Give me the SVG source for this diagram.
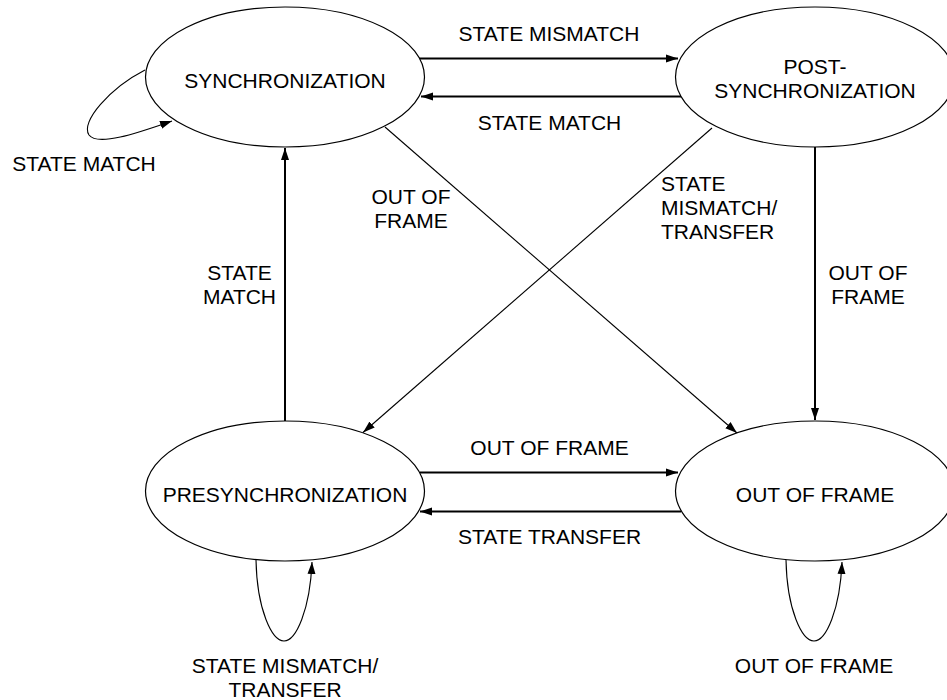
<svg xmlns="http://www.w3.org/2000/svg" width="947" height="700" viewBox="0 0 947 700">
  <style>
    .node { fill: #ffffff; stroke: #000000; stroke-width: 1.2; }
    .lbl { font-family: "Liberation Sans", Arial, sans-serif; font-size: 21px; fill: #000000; }
    .mid { text-anchor: middle; }
    .thick { fill: none; stroke: #000000; stroke-width: 2; }
    .thin { fill: none; stroke: #000000; stroke-width: 1.1; }
  </style>
  <defs>
    <marker id="arrow" markerUnits="userSpaceOnUse" markerWidth="13" markerHeight="9" refX="12" refY="4.5" orient="auto">
      <path d="M0,0.5 L12,4.5 L0,8.5 z" fill="#000000"/>
    </marker>
  </defs>
  <rect width="947" height="700" fill="#ffffff"/>

  <!-- transitions -->
  <g id="connectors">
    <line class="thick" x1="419" y1="58.5" x2="678" y2="58.5" marker-end="url(#arrow)"/>
    <line class="thick" x1="681" y1="96.5" x2="421" y2="96.5" marker-end="url(#arrow)"/>
    <line class="thick" x1="420" y1="472.5" x2="678" y2="472.5" marker-end="url(#arrow)"/>
    <line class="thick" x1="681" y1="511.5" x2="420" y2="511.5" marker-end="url(#arrow)"/>
    <line class="thick" x1="285" y1="421" x2="285" y2="148" marker-end="url(#arrow)"/>
    <line class="thick" x1="815" y1="147" x2="815" y2="420" marker-end="url(#arrow)"/>
    <line class="thin" x1="385" y1="127" x2="737" y2="433" marker-end="url(#arrow)"/>
    <line class="thin" x1="712" y1="128" x2="363" y2="432.5" marker-end="url(#arrow)"/>
    <path class="thin" d="M145,70 C110,88 80,122 89,135 C98,147 140,132 172,121" marker-end="url(#arrow)"/>
    <path class="thin" d="M256,560 C257,610 272,641 284,641 C296,641 310,610 312,562" marker-end="url(#arrow)"/>
    <path class="thin" d="M786,560 C787,610 802,641 814,641 C826,641 840,610 842,562" marker-end="url(#arrow)"/>
  </g>

  <!-- states -->
  <g id="synchronization">
    <ellipse class="node" cx="285" cy="77" rx="139.5" ry="70"/>
    <text class="lbl mid" x="285" y="88">SYNCHRONIZATION</text>
  </g>
  <g id="post-synchronization">
    <ellipse class="node" cx="815" cy="77" rx="139.5" ry="70"/>
    <text class="lbl mid" x="815" y="74">POST-</text>
    <text class="lbl mid" x="815" y="98">SYNCHRONIZATION</text>
  </g>
  <g id="presynchronization">
    <ellipse class="node" cx="285" cy="491" rx="139.5" ry="70"/>
    <text class="lbl mid" x="285" y="502">PRESYNCHRONIZATION</text>
  </g>
  <g id="out-of-frame">
    <ellipse class="node" cx="815" cy="491" rx="139.5" ry="70"/>
    <text class="lbl mid" x="815" y="502">OUT OF FRAME</text>
  </g>

  <!-- transition labels -->
  <g id="labels">
    <text class="lbl mid" x="549" y="41">STATE MISMATCH</text>
    <text class="lbl mid" x="549.5" y="130">STATE MATCH</text>
    <text class="lbl mid" x="84" y="171">STATE MATCH</text>
    <text class="lbl mid" x="411" y="204">OUT OF</text>
    <text class="lbl mid" x="411" y="228">FRAME</text>
    <text class="lbl mid" x="239.5" y="280">STATE</text>
    <text class="lbl mid" x="239.5" y="304">MATCH</text>
    <text class="lbl" x="661" y="191">STATE</text>
    <text class="lbl" x="661" y="215">MISMATCH/</text>
    <text class="lbl" x="661" y="239">TRANSFER</text>
    <text class="lbl mid" x="868" y="280">OUT OF</text>
    <text class="lbl mid" x="868" y="304">FRAME</text>
    <text class="lbl mid" x="549.5" y="455">OUT OF FRAME</text>
    <text class="lbl mid" x="549.5" y="544">STATE TRANSFER</text>
    <text class="lbl mid" x="285" y="673">STATE MISMATCH/</text>
    <text class="lbl mid" x="285" y="697">TRANSFER</text>
    <text class="lbl mid" x="814" y="673">OUT OF FRAME</text>
  </g>
</svg>
